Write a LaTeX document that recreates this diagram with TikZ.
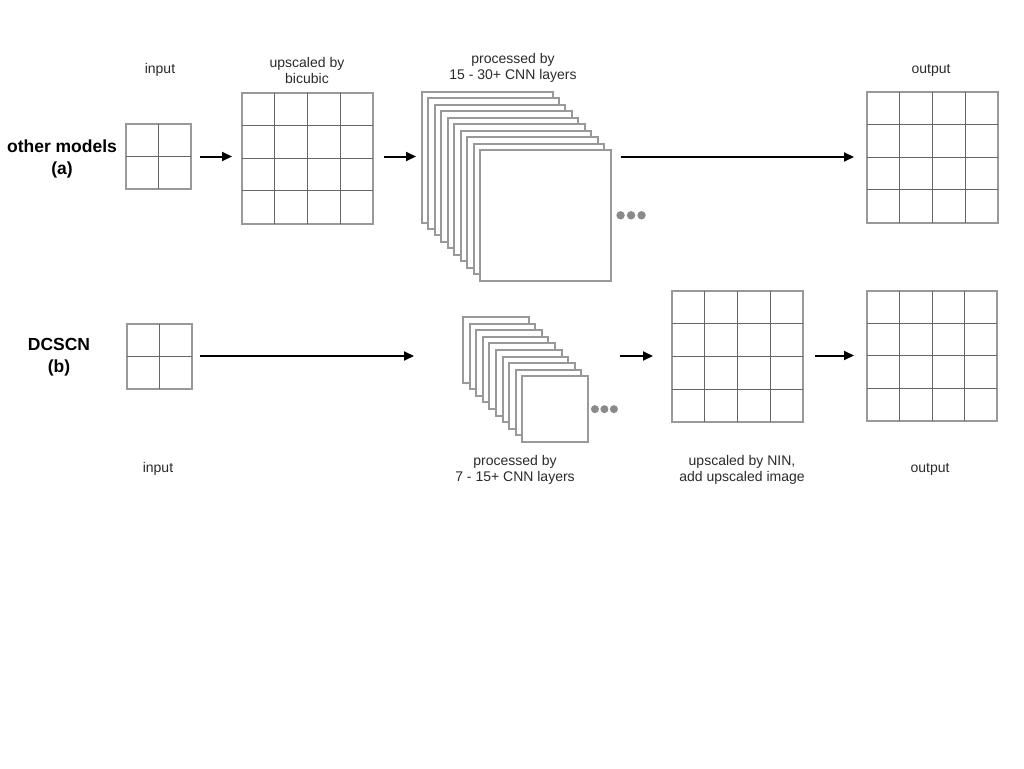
\documentclass[tikz,border=0pt]{standalone}
\usepackage{fontspec}
\setmainfont{Liberation Sans}
\usetikzlibrary{arrows.meta,calc}
\definecolor{boxgray}{HTML}{999999}
\definecolor{gridgray}{HTML}{666666}
\definecolor{dotgray}{HTML}{8A8A8A}
\definecolor{labelgray}{HTML}{2A2A2A}
\tikzset{
  frame/.style={draw=boxgray, line width=2pt, fill=white, inner sep=0pt, outer sep=0pt},
  gridline/.style={draw=gridgray, line width=1pt},
  layer/.style={frame, minimum width=#1, minimum height=#1, anchor=north west},
  flow/.style={draw=black, line width=2pt, -{Triangle[length=10pt,width=9pt]}},
  caption/.style={text=labelgray, align=center, font=\fontsize{14}{16}\selectfont},
  title/.style={text=black, align=center, font=\fontsize{17.5}{22}\selectfont\bfseries},
}
% grid box: node name, centre, side length, cells per side
\newcommand{\gridbox}[4]{%
  \node[frame, minimum width=#3, minimum height=#3] (#1) at (#2) {};
  \foreach \k in {1,...,\numexpr#4-1\relax}{
    \draw[gridline] ($(#1.north west)!\k/#4!(#1.north east)$) -- ($(#1.south west)!\k/#4!(#1.south east)$);
    \draw[gridline] ($(#1.north west)!\k/#4!(#1.south west)$) -- ($(#1.north east)!\k/#4!(#1.south east)$);
  }
}
\begin{document}
\begin{tikzpicture}[x=1pt, y=-1pt]
\useasboundingbox (0,0) rectangle (1024,768);

% ---------- row (a): other models ----------
\node[title] (ta) at (62,159) {other models\\(a)};
\gridbox{inA}{158.5,156.5}{65}{2}
\gridbox{upA}{307.5,158}{131}{4}
\foreach \i in {0,...,9}
  \node[layer=130.5] (sa\i) at (422+6.45*\i, 92+6.45*\i) {};
\foreach \d in {10,20.5,31}
  \fill[dotgray] ([xshift=\d]sa9.east) circle (4.2);
\gridbox{outA}{932.5,157}{131}{4}

\node[caption] (lia) at (160,70) {input};
\node[caption] (lua) at (307,70) {upscaled by\\bicubic};
\node[caption] (lpa) at (513,68) {processed by\\15 - 30+ CNN layers};
\node[caption] (loa) at (931,70) {output};

\draw[flow] ([xshift=9]inA.east) -- ([xshift=-10]upA.west |- inA.east);
\draw[flow] ([xshift=11]upA.east |- inA.east) -- ([xshift=-6]sa0.west |- inA.east);
\draw[flow] ([xshift=10]sa9.east |- outA.west) -- ([xshift=-13]outA.west);

% ---------- row (b): DCSCN ----------
\node[title] (tb) at (59,357) {DCSCN\\(b)};
\gridbox{inB}{159,356}{65}{2}
\foreach \i in {0,...,9}
  \node[layer=65.5] (sb\i) at (463+6.6*\i, 317+6.6*\i) {};
\foreach \d in {7,16.5,26}
  \fill[dotgray] ([xshift=\d]sb9.east) circle (4.0);
\gridbox{nin}{737.5,356.5}{131}{4}
\gridbox{outB}{932,355.5}{130}{4}

\node[caption] (lib) at (158,469) {input};
\node[caption] (lpb) at (515,470) {processed by\\7 - 15+ CNN layers};
\node[caption] (lnb) at (742,470) {upscaled by NIN,\\add upscaled image};
\node[caption] (lob) at (930,469) {output};

\draw[flow] ([xshift=8]inB.east) -- ([xshift=-49]sb0.west |- inB.east);
\draw[flow] ([xshift=32]sb9.east |- inB.east) -- ([xshift=-19]nin.west |- inB.east);
\draw[flow] ([xshift=12]nin.east |- outB.west) -- ([xshift=-13]outB.west);
\end{tikzpicture}
\end{document}
